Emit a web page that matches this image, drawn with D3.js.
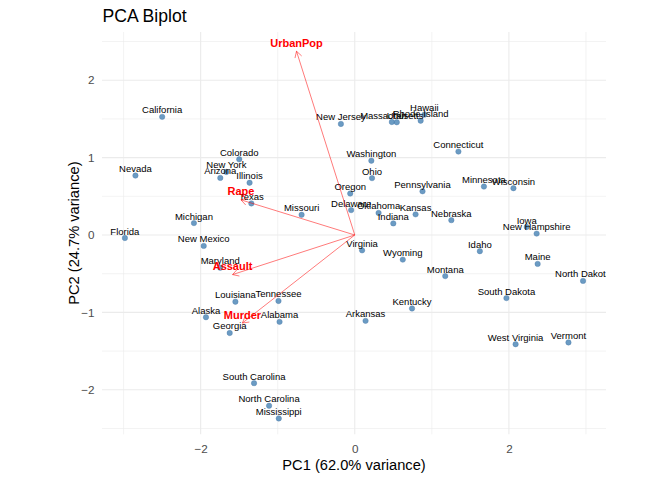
<!DOCTYPE html>
<html>
<head>
<meta charset="utf-8">
<script src="https://cdn.jsdelivr.net/npm/d3@7"></script>
<style>
  body { margin: 0; background: #fff; }
  svg { font-family: "Liberation Sans", Arial, sans-serif; }
</style>
</head>
<body>
<div id="chart"></div>
<script>
// USArrests, prcomp(scale = TRUE), PC2 sign flipped as in the picture
const states = ["Alabama","Alaska","Arizona","Arkansas","California","Colorado","Connecticut","Delaware","Florida","Georgia","Hawaii","Idaho","Illinois","Indiana","Iowa","Kansas","Kentucky","Louisiana","Maine","Maryland","Massachusetts","Michigan","Minnesota","Mississippi","Missouri","Montana","Nebraska","Nevada","New Hampshire","New Jersey","New Mexico","New York","North Carolina","North Dakota","Ohio","Oklahoma","Oregon","Pennsylvania","Rhode Island","South Carolina","South Dakota","Tennessee","Texas","Utah","Vermont","Virginia","Washington","West Virginia","Wisconsin","Wyoming"];
const pc1 = [-0.976,-1.931,-1.745,0.140,-2.499,-1.499,1.345,-0.047,-2.983,-1.623,0.903,1.623,-1.365,0.500,2.231,0.789,0.743,-1.549,2.373,-1.746,0.481,-2.087,1.676,-0.986,-0.690,1.174,1.253,-2.846,2.360,-0.180,-1.960,-1.666,-1.112,2.962,0.224,0.309,-0.059,0.879,0.855,-1.307,1.968,-0.990,-1.342,0.545,2.773,0.095,0.215,2.087,2.059,0.623];
const pc2 = [-1.122,-1.062,0.738,-1.109,1.527,0.978,1.078,0.322,-0.039,-1.266,1.555,-0.209,0.675,0.150,0.103,0.267,-0.949,-0.862,-0.373,-0.423,1.460,0.154,0.626,-2.370,0.261,-0.531,0.192,0.768,0.018,1.435,-0.141,0.815,-2.206,-0.593,0.735,0.285,0.536,0.565,1.477,-1.914,-0.815,-0.852,0.408,1.457,-1.388,-0.198,0.960,-1.411,0.605,-0.318];

const vars = ["Murder","Assault","UrbanPop","Rape"];
const load1 = [-0.536,-0.583,-0.278,-0.543];
const load2 = [-0.418,-0.188,0.873,0.167];
const arrowScale = 2.72;

const xMajor = [-2, 0, 2];
const xMinor = [-3, -1, 1, 3];
const yMajor = [-2, -1, 0, 1, 2];
const yMinor = [-2.5, -1.5, -0.5, 0.5, 1.5, 2.5];

const W = 672, H = 480;
const panel = { left: 102, right: 606, top: 32, bottom: 434.3 };

const svg = d3.select("#chart").append("svg").attr("width", W).attr("height", H);

const x = d3.scaleLinear().domain([-3.28, 3.26]).range([panel.left, panel.right]);
const y = d3.scaleLinear().domain([-2.575, 2.623]).range([panel.bottom, panel.top]);

svg.append("defs").append("clipPath").attr("id", "clip")
  .append("rect").attr("x", panel.left).attr("y", panel.top)
  .attr("width", panel.right - panel.left).attr("height", panel.bottom - panel.top);

// grid
const grid = svg.append("g");
grid.selectAll(".xmin").data(xMinor).enter().append("line")
  .attr("x1", d => x(d)).attr("x2", d => x(d)).attr("y1", panel.top).attr("y2", panel.bottom)
  .attr("stroke", "#ebebeb").attr("stroke-width", 0.6);
grid.selectAll(".ymin").data(yMinor).enter().append("line")
  .attr("y1", d => y(d)).attr("y2", d => y(d)).attr("x1", panel.left).attr("x2", panel.right)
  .attr("stroke", "#ebebeb").attr("stroke-width", 0.6);
grid.selectAll(".xmaj").data(xMajor).enter().append("line")
  .attr("x1", d => x(d)).attr("x2", d => x(d)).attr("y1", panel.top).attr("y2", panel.bottom)
  .attr("stroke", "#ebebeb").attr("stroke-width", 1.1);
grid.selectAll(".ymaj").data(yMajor).enter().append("line")
  .attr("y1", d => y(d)).attr("y2", d => y(d)).attr("x1", panel.left).attr("x2", panel.right)
  .attr("stroke", "#ebebeb").attr("stroke-width", 1.1);

// axes (no lines, just labels)
const xAxis = svg.append("g").attr("transform", `translate(0,${panel.bottom})`)
  .call(d3.axisBottom(x).tickValues(xMajor).tickSize(0).tickPadding(0).tickFormat(d3.format("d")));
xAxis.select(".domain").remove();
xAxis.selectAll("text").attr("dy", null).attr("y", 18.4)
  .attr("font-size", "11.7px").attr("fill", "#4d4d4d").attr("font-family", "Liberation Sans, Arial, sans-serif");

const yAxis = svg.append("g").attr("transform", `translate(${panel.left},0)`)
  .call(d3.axisLeft(y).tickValues(yMajor).tickSize(0).tickPadding(7.5).tickFormat(d3.format("d")));
yAxis.select(".domain").remove();
yAxis.selectAll("text").attr("font-size", "11.7px").attr("fill", "#4d4d4d")
  .attr("font-family", "Liberation Sans, Arial, sans-serif");

// titles
svg.append("text").attr("x", 102.5).attr("y", 22).attr("font-size", "17.6px").attr("fill", "#000")
  .text("PCA Biplot");
svg.append("text").attr("x", (panel.left + panel.right) / 2).attr("y", 470)
  .attr("text-anchor", "middle").attr("font-size", "14.67px").attr("fill", "#000")
  .text("PC1 (62.0% variance)");
svg.append("text").attr("transform", `translate(79,${(panel.top + panel.bottom) / 2}) rotate(-90)`)
  .attr("text-anchor", "middle").attr("font-size", "14.67px").attr("fill", "#000")
  .text("PC2 (24.7% variance)");

const plot = svg.append("g").attr("clip-path", "url(#clip)");

const rows = states.map((s, i) => ({ name: s, a: pc1[i], b: pc2[i] }));

plot.selectAll("circle").data(rows).enter().append("circle")
  .attr("cx", d => x(d.a)).attr("cy", d => y(d.b)).attr("r", 2.7)
  .attr("fill", "steelblue").attr("fill-opacity", 0.8)
  .attr("stroke", "#4a7aa8").attr("stroke-width", 0.4);

plot.selectAll("text.state").data(rows).enter().append("text")
  .attr("class", "state")
  .attr("x", d => x(d.a)).attr("y", d => y(d.b) - 3.5)
  .attr("text-anchor", "middle").attr("font-size", "9.5px").attr("fill", "#000")
  .text(d => d.name);

// loading arrows
const loads = vars.map((v, i) => ({ name: v, a: load1[i] * arrowScale, b: load2[i] * arrowScale }));

plot.selectAll("path.arrow").data(loads).enter().append("path")
  .attr("class", "arrow")
  .attr("d", d => {
    const x0 = x(0), y0 = y(0), x1 = x(d.a), y1 = y(d.b);
    const ang = Math.atan2(y1 - y0, x1 - x0);
    const len = 7, spread = Math.PI / 6;
    const ax = x1 - len * Math.cos(ang - spread), ay = y1 - len * Math.sin(ang - spread);
    const bx = x1 - len * Math.cos(ang + spread), by = y1 - len * Math.sin(ang + spread);
    return `M${x0},${y0}L${x1},${y1}M${ax},${ay}L${x1},${y1}L${bx},${by}`;
  })
  .attr("fill", "none").attr("stroke", "red").attr("stroke-opacity", 0.75).attr("stroke-width", 0.7);

plot.selectAll("text.var").data(loads).enter().append("text")
  .attr("class", "var")
  .attr("x", d => x(d.a)).attr("y", d => y(d.b) - 4.5)
  .attr("text-anchor", "middle").attr("font-size", "11px").attr("font-weight", "bold").attr("fill", "red")
  .text(d => d.name);
</script>
</body>
</html>
